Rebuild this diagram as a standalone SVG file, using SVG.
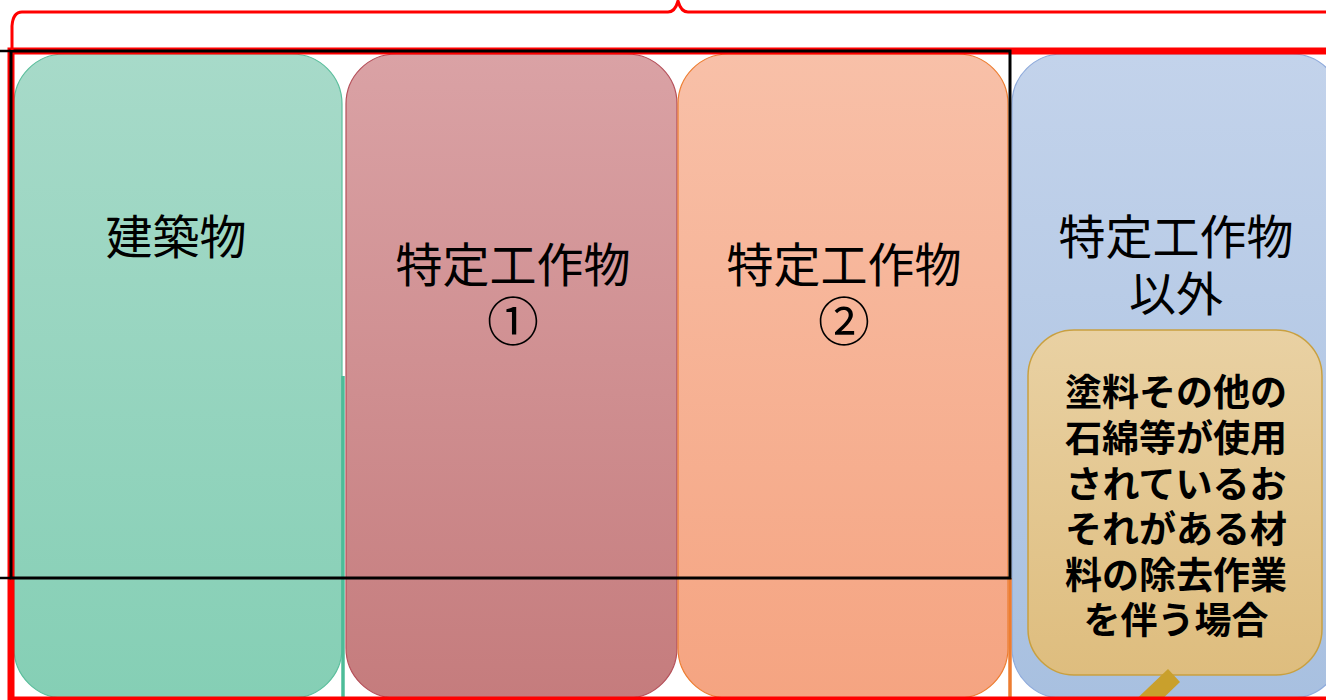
<svg xmlns="http://www.w3.org/2000/svg" width="1326" height="700" viewBox="0 0 1326 700">
<defs>
<linearGradient id="gGreen" x1="0" y1="0" x2="0" y2="1"><stop offset="0" stop-color="#A7DAC9"/><stop offset="1" stop-color="#85CFB5"/></linearGradient>
<linearGradient id="gRed" x1="0" y1="0" x2="0" y2="1"><stop offset="0" stop-color="#DAA2A5"/><stop offset="1" stop-color="#C57C7D"/></linearGradient>
<linearGradient id="gOrange" x1="0" y1="0" x2="0" y2="1"><stop offset="0" stop-color="#F8C0A8"/><stop offset="1" stop-color="#F5A481"/></linearGradient>
<linearGradient id="gBlue" x1="0" y1="0" x2="0" y2="1"><stop offset="0" stop-color="#C3D3EB"/><stop offset="1" stop-color="#A8C0E0"/></linearGradient>
<linearGradient id="gTan" x1="0" y1="0" x2="0" y2="1"><stop offset="0" stop-color="#E9D1A3"/><stop offset="1" stop-color="#DEBD7E"/></linearGradient>
</defs>
<style>
.lbl{font-family:"Noto Sans CJK JP","Noto Sans",sans-serif;font-size:47px;fill:#000;text-anchor:middle}
.num{font-size:52px}
.call{font-family:"Noto Sans CJK JP","Noto Sans",sans-serif;font-size:37px;font-weight:bold;fill:#000;text-anchor:middle}
</style>
<g id="col-building">
<rect x="14" y="54" width="328" height="644" rx="50" ry="50" fill="url(#gGreen)" stroke="#5BBE9C" stroke-width="1.2"/>
<text class="lbl" x="176" y="254">建築物</text>
</g>
<g id="col-special1">
<rect x="346" y="54" width="331" height="644" rx="50" ry="50" fill="url(#gRed)" stroke="#B5505A" stroke-width="1.2"/>
<text class="lbl" x="513" y="282">特定工作物</text>
<text class="lbl num" x="513" y="341">①</text>
</g>
<g id="col-special2">
<rect x="678" y="54" width="330" height="644" rx="50" ry="50" fill="url(#gOrange)" stroke="#ED7D31" stroke-width="1.2"/>
<text class="lbl" x="844" y="282">特定工作物</text>
<text class="lbl num" x="844" y="341">②</text>
</g>
<g id="col-other">
<rect x="1012" y="54" width="330" height="644" rx="50" ry="50" fill="url(#gBlue)" stroke="#8EAADB" stroke-width="1.2"/>
<text class="lbl" x="1176" y="254">特定工作物</text>
<text class="lbl" x="1176" y="311">以外</text>
</g>
<g id="callout">
<rect x="1028" y="330" width="294" height="345" rx="46" ry="46" fill="url(#gTan)" stroke="#C9A040" stroke-width="1.5"/>
<polygon points="1168,669 1180,682 1153,708 1127,708" fill="#C9A02C"/>
<text class="call" x="1176" y="406">塗料その他の</text>
<text class="call" x="1176" y="452">石綿等が使用</text>
<text class="call" x="1176" y="498">されているお</text>
<text class="call" x="1176" y="543">それがある材</text>
<text class="call" x="1176" y="589">料の除去作業</text>
<text class="call" x="1176" y="634">を伴う場合</text>
</g>
<g id="connectors" fill="none">
<line x1="343" y1="376" x2="343" y2="700" stroke="#4DBC98" stroke-width="3.5"/>
<line x1="1010" y1="578" x2="1010" y2="700" stroke="#ED7D31" stroke-width="3.5"/>
<rect x="11" y="51" width="1340" height="649" stroke="#FF0000" stroke-width="7"/>
<rect x="11" y="51" width="999" height="527" stroke="#000" stroke-width="3"/>
<line x1="0" y1="51" x2="11" y2="51" stroke="#000" stroke-width="2.5"/>
<line x1="0" y1="578" x2="11" y2="578" stroke="#000" stroke-width="2.5"/>
<path d="M12,50 L12,26 Q13,12 22,12 L668,12 Q675,12 678,1 Q681,12 688,12 L1330,12" stroke="#FF0000" stroke-width="3"/>
</g>
</svg>
